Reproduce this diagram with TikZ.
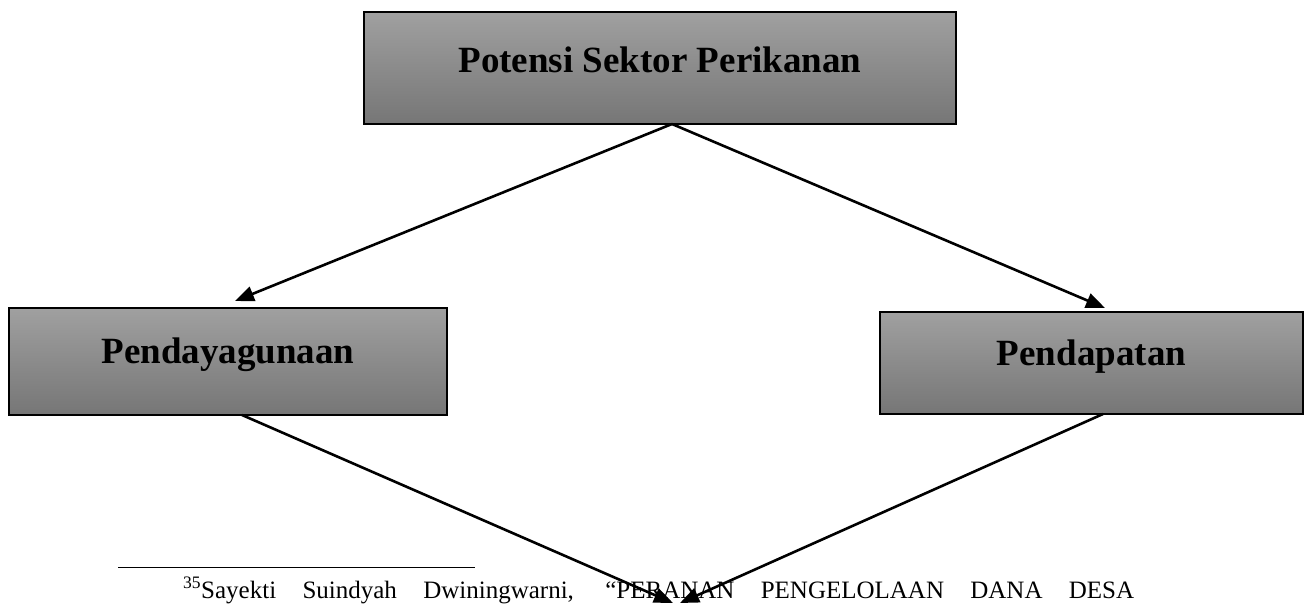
\documentclass[tikz,border=0pt]{standalone}
\usepackage{fontspec}
\setmainfont{Liberation Serif}
\usetikzlibrary{arrows.meta}
\definecolor{boxtop}{RGB}{160,160,160}
\definecolor{boxbot}{RGB}{118,118,118}
\tikzset{
  potbox/.style={draw=black,line width=1.2pt,top color=boxtop,bottom color=boxbot,
    inner sep=0,outer sep=0,font=\fontsize{37}{44}\selectfont\bfseries},
  potarrow/.style={line width=2.6pt,-{Triangle[length=19pt,width=15pt]}}
}
\begin{document}
\begin{tikzpicture}[x=1pt,y=-1pt]
	\useasboundingbox (0,0) rectangle (1307,605);
	\node[potbox,minimum width=592pt,minimum height=112pt,text height=20pt,text depth=12pt] (1) at (660,68) {Potensi Sektor Perikanan};
	\node[potbox,minimum width=438pt,minimum height=107pt,text height=18pt,text depth=15pt] (2) at (228,361.5) {Pendayagunaan};
	\node[potbox,minimum width=423pt,minimum height=102pt,text height=18pt,text depth=14pt] (3) at (1091.5,363) {Pendapatan};
	\coordinate (4) at (676,603);
	\coordinate (5) at (118,567);
	\coordinate (6) at (475,567);
	\draw[line width=0.8pt] (5) -- (6);
	\node[anchor=base west,inner sep=0,font=\fontsize{25}{30}\selectfont] (7) at (183,598)
		{\makebox[951pt][s]{\textsuperscript{35}Sayekti Suindyah Dwiningwarni, “PERANAN PENGELOLAAN DANA DESA}};
	\draw[potarrow] ([xshift=12pt]1.south) -- ([xshift=7pt,yshift=7pt]2.north);
	\draw[potarrow] ([xshift=12pt]1.south) -- ([xshift=13.5pt,yshift=4pt]3.north);
	\draw[potarrow] ([xshift=14pt]2.south) -- ([xshift=-3pt]4);
	\draw[potarrow] ([xshift=11.5pt]3.south) -- ([xshift=4pt]4);
\end{tikzpicture}
\end{document}
